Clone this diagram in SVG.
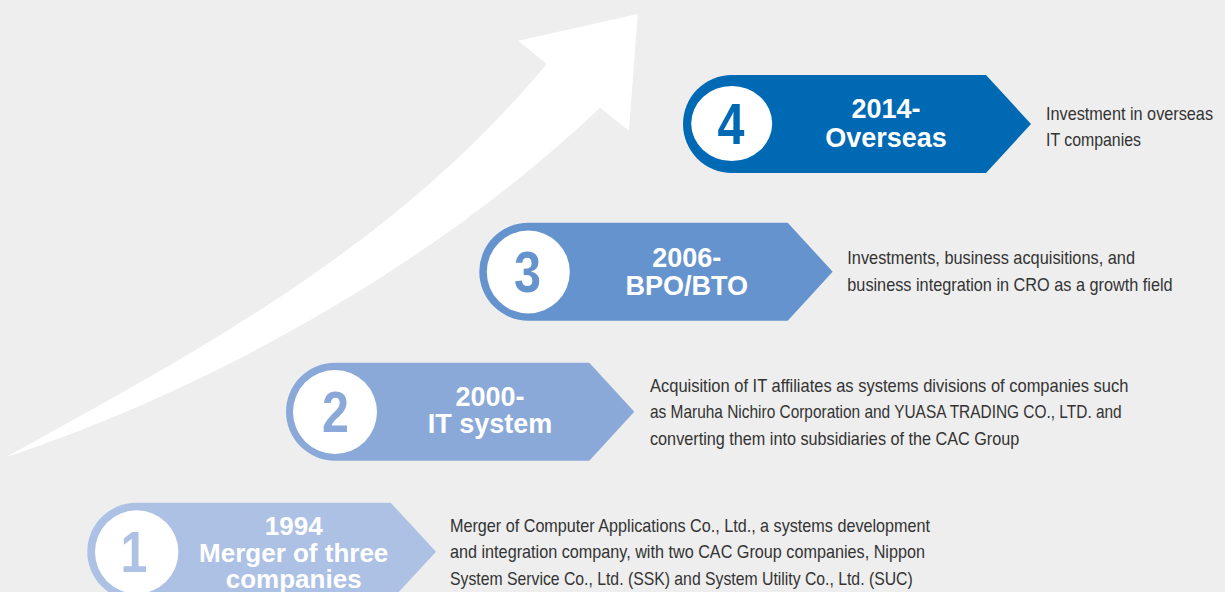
<svg xmlns="http://www.w3.org/2000/svg" width="1225" height="592" viewBox="0 0 1225 592">
  <style>
    .num { font-family: "Liberation Sans", Arial, sans-serif; font-weight: bold; font-size: 57px; text-anchor: middle; }
    .title { font-family: "Liberation Sans", Arial, sans-serif; font-weight: bold; font-size: 27px; fill: #ffffff; text-anchor: middle; }
    .title1 { font-size: 26px; }
    .desc { font-family: "Liberation Sans", Arial, sans-serif; font-size: 18.5px; fill: #333333; }
    .disc { fill: #ffffff; }
  </style>
  <rect x="0" y="0" width="1225" height="592" fill="#eeeeee"/>

  <g id="growth-arrow">
    <path d="M 637.7,14 L 518.3,40.7 L 546.7,64 C 396.7,244 206.7,346.7 6.7,456.7 C 186.7,397.3 420,278.7 600,107.7 L 629,130.7 Z" fill="#ffffff"/>
  </g>

  <g id="connectors"></g>

  <g id="node-4">
    <path d="M 732,75 L 986,75 L 1031,124 L 986,173 L 732,173 A 49 49 0 0 1 732,75 Z" fill="#0069b4"/>
    <ellipse class="disc" cx="731.7" cy="123.5" rx="40.5" ry="37.5"/>
    <text class="num" transform="translate(731,144) scale(0.85,1)" x="0" y="0" fill="#0069b4">4</text>
    <text class="title" x="886" y="118.3">2014-</text>
    <text class="title" x="886" y="146.7">Overseas</text>
    <text class="desc" x="1046" y="120" textLength="167" lengthAdjust="spacingAndGlyphs">Investment in overseas</text>
    <text class="desc" x="1046" y="146" textLength="95" lengthAdjust="spacingAndGlyphs">IT companies</text>
  </g>

  <g id="node-3">
    <path d="M 528.3,222.7 L 787.7,222.7 L 832.7,271.7 L 787.7,320.7 L 528.3,320.7 A 49 49 0 0 1 528.3,222.7 Z" fill="#6593cd"/>
    <circle class="disc" cx="528.3" cy="272" r="41.5"/>
    <text class="num" transform="translate(527.5,292.3) scale(0.85,1)" x="0" y="0" fill="#6593cd">3</text>
    <text class="title" x="686.7" y="267.3">2006-</text>
    <text class="title" x="686.7" y="295">BPO/BTO</text>
    <text class="desc" x="847.3" y="264.3" textLength="287.7" lengthAdjust="spacingAndGlyphs">Investments, business acquisitions, and</text>
    <text class="desc" x="847.3" y="290.7" textLength="325.3" lengthAdjust="spacingAndGlyphs">business integration in CRO as a growth field</text>
  </g>

  <g id="node-2">
    <path d="M 335,362.7 L 589.3,362.7 L 634.3,411.7 L 589.3,460.7 L 335,460.7 A 49 49 0 0 1 335,362.7 Z" fill="#8aa9d8"/>
    <circle class="disc" cx="335" cy="412" r="42"/>
    <text class="num" transform="translate(335.5,431.7) scale(0.85,1)" x="0" y="0" fill="#8aa9d8">2</text>
    <text class="title" x="490" y="406">2000-</text>
    <text class="title" x="490" y="433.3">IT system</text>
    <text class="desc" x="650" y="391.7" textLength="478.3" lengthAdjust="spacingAndGlyphs">Acquisition of IT affiliates as systems divisions of companies such</text>
    <text class="desc" x="650" y="418.3" textLength="471.7" lengthAdjust="spacingAndGlyphs">as Maruha Nichiro Corporation and YUASA TRADING CO., LTD. and</text>
    <text class="desc" x="650" y="445" textLength="369.3" lengthAdjust="spacingAndGlyphs">converting them into subsidiaries of the CAC Group</text>
  </g>

  <g id="node-1">
    <path d="M 136.3,502.7 L 390.7,502.7 L 436,551.7 L 390.7,600.7 L 136.3,600.7 A 49 49 0 0 1 136.3,502.7 Z" fill="#adc1e4"/>
    <circle class="disc" cx="136.7" cy="552" r="41.7"/>
    <text class="num" transform="translate(134,571.7) scale(0.85,1)" x="0" y="0" fill="#adc1e4">1</text>
    <text class="title title1" x="293.7" y="535">1994</text>
    <text class="title title1" x="293.7" y="562">Merger of three</text>
    <text class="title title1" x="293.7" y="587.5">companies</text>
    <text class="desc" x="450" y="531.7" textLength="480" lengthAdjust="spacingAndGlyphs">Merger of Computer Applications Co., Ltd., a systems development</text>
    <text class="desc" x="450" y="558.3" textLength="475" lengthAdjust="spacingAndGlyphs">and integration company, with two CAC Group companies, Nippon</text>
    <text class="desc" x="450" y="585" textLength="462.7" lengthAdjust="spacingAndGlyphs">System Service Co., Ltd. (SSK) and System Utility Co., Ltd. (SUC)</text>
  </g>
</svg>
